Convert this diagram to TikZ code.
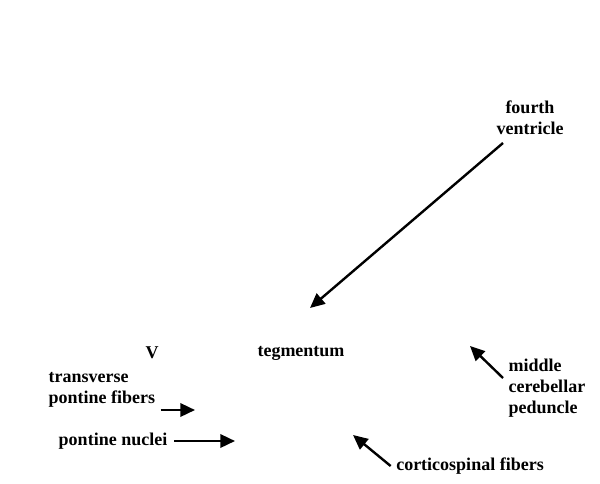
\documentclass[tikz,border=0pt]{standalone}
\usepackage{fontspec}
\setmainfont{Liberation Serif}
\usetikzlibrary{arrows.meta}
\tikzset{lbl/.style={font=\bfseries\fontsize{13.5}{15.8}\selectfont, align=center, inner sep=1pt},
  pointer/.style={line width=1.8pt, -{Triangle[length=11pt,width=10pt]}}}
\begin{document}
\begin{tikzpicture}[x=0.75pt,y=-0.75pt]
    \useasboundingbox (0,0) rectangle (600,483);
    \node[lbl] (fourth) at (530,118) {fourth\\ventricle};
    \node[lbl] (teg) at (301,353) {tegmentum};
    \node[lbl] (v) at (152,353) {V};
    \node[lbl, align=left, anchor=west] (trans) at (47,390) {transverse\\pontine fibers};
    \node[lbl] (nuclei) at (113,441) {pontine nuclei};
    \node[lbl, align=left, anchor=west] (middle) at (507,388) {middle\\cerebellar\\peduncle};
    \node[lbl] (cort) at (470,466) {corticospinal fibers};

    \coordinate (c1) at (310,308);
    \coordinate (c2) at (195,410);
    \coordinate (c3) at (235,441);
    \coordinate (c4) at (470,346);
    \coordinate (c5) at (353,435);

    \draw[pointer] (503,143) -- (c1); %fourth ventricle
    \draw[pointer] ([xshift=3pt]trans.east |- c2) -- (c2); %transverse
    \draw[pointer] ([xshift=4pt]nuclei.east) -- (c3); %nuclei
    \draw[pointer] (503,378) -- (c4); %middle
    \draw[pointer] ([xshift=-3pt]cort.west) -- (c5); %cortico
\end{tikzpicture}
\end{document}
